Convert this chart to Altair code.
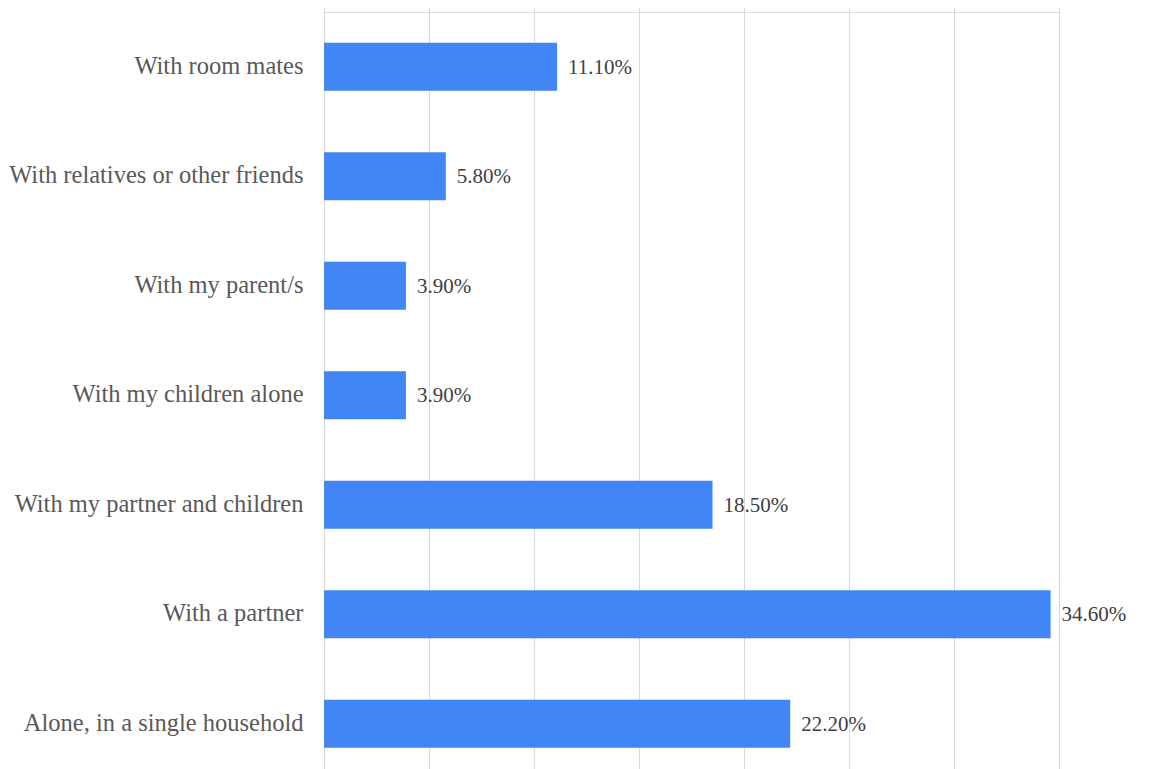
import altair as alt
import pandas as pd

categories = [
    "With room mates",
    "With relatives or other friends",
    "With my parent/s",
    "With my children alone",
    "With my partner and children",
    "With a partner",
    "Alone, in a single household",
]
values = [11.1, 5.8, 3.9, 3.9, 18.5, 34.6, 22.2]
labels = ["11.10%", "5.80%", "3.90%", "3.90%", "18.50%", "34.60%", "22.20%"]

df = pd.DataFrame({"cat": categories, "val": values, "lab": labels})

FONT = "'Times New Roman', 'Liberation Serif', serif"

y_enc = alt.Y(
    "cat:N",
    sort=categories,
    title=None,
    scale=alt.Scale(range=[0, 766.5], paddingInner=0.56, paddingOuter=0.28),
    axis=alt.Axis(
        domain=False,
        ticks=False,
        grid=False,
        labelFont=FONT,
        labelFontSize=24.5,
        labelColor="#595959",
        labelPadding=21,
        labelLimit=400,
    ),
)

x_enc = alt.X(
    "val:Q",
    title=None,
    scale=alt.Scale(domain=[0, 35], nice=False),
    axis=alt.Axis(
        values=[0, 5, 10, 15, 20, 25, 30, 35],
        labels=False,
        ticks=False,
        domain=False,
        grid=True,
        gridColor="#d9d9d9",
        gridWidth=1,
    ),
)

bars = alt.Chart(df).mark_bar(color="#4285f4").encode(x=x_enc, y=y_enc)

text = alt.Chart(df).mark_text(
    align="left",
    baseline="middle",
    dx=11,
    dy=1,
    font=FONT,
    fontSize=21,
    color="#404040",
).encode(
    x=alt.X("val:Q"),
    y=alt.Y("cat:N", sort=categories),
    text="lab:N",
)

chart = (
    alt.layer(bars, text)
    .properties(
        width=735,
        height=757,
        autosize=alt.AutoSizeParams(type="none"),
        padding={"left": 316, "top": 4, "right": 90, "bottom": 0},
    )
    .configure_view(strokeWidth=0, stroke="transparent")
    .configure(background="white")
)

chart.save("out.html", embed_options={"renderer": "svg", "actions": False})
